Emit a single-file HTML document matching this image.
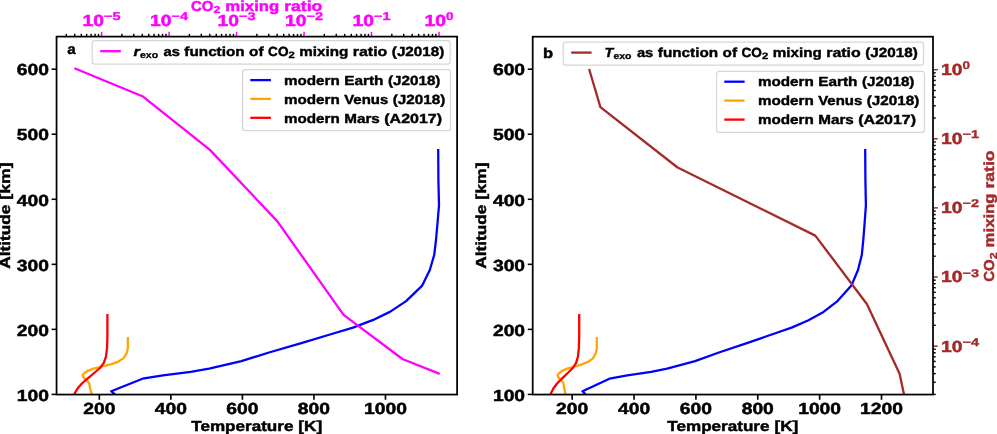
<!DOCTYPE html>
<html><head><meta charset="utf-8"><title>Temperature profiles and CO2 mixing ratio</title>
<style>html,body{margin:0;padding:0;background:#fff;}svg{display:block;will-change:transform;}text{white-space:pre;text-rendering:geometricPrecision;}</style></head>
<body>
<svg width="997" height="434" viewBox="0 0 997 434" font-family="'Liberation Sans', sans-serif" font-weight="bold">
<rect x="0" y="0" width="997" height="434" fill="#fff"/>
<defs><clipPath id="ca"><rect x="56.55" y="36.6" width="400.55" height="357.95"/></clipPath><clipPath id="cb"><rect x="532.7" y="36.7" width="400.30" height="357.85"/></clipPath></defs>
<polyline points="438.2,149.1 438.4,180.0 439.0,205.5 437.6,222.0 436.0,240.0 434.2,255.0 429.8,270.0 422.2,285.6 406.1,301.1 389.9,311.9 372.6,320.2 353.0,327.6 330.0,334.5 301.3,343.1 269.0,352.5 241.4,361.1 209.1,368.7 190.7,371.9 163.0,375.3 142.5,378.7 111.2,391.2 116.5,396.0" fill="none" stroke="#0000ff" stroke-width="2.3" stroke-linejoin="round" stroke-linecap="butt" clip-path="url(#ca)"/>
<polyline points="127.8,337.0 127.8,348.4 126.5,353.7 123.3,358.4 118.0,361.8 110.6,364.4 102.1,366.5 93.6,368.6 87.2,371.1 83.4,373.9 82.6,375.6 84.0,378.2 87.2,380.7 89.3,383.5 90.0,387.7 90.8,390.9 91.5,393.4 91.8,395.5" fill="none" stroke="#ffa500" stroke-width="2.3" stroke-linejoin="round" stroke-linecap="butt" clip-path="url(#ca)"/>
<polyline points="107.4,314.1 107.4,337.8 107.0,348.4 105.9,356.9 103.8,362.9 100.0,368.0 93.6,373.5 87.2,378.8 81.9,383.5 77.7,388.3 74.9,393.0 74.0,395.5" fill="none" stroke="#ff0000" stroke-width="2.3" stroke-linejoin="round" stroke-linecap="butt" clip-path="url(#ca)"/>
<polyline points="74.4,68.3 142.4,96.2 209.9,149.9 277.2,221.1 343.6,314.9 402.4,359.0 439.7,373.9" fill="none" stroke="#ff00ff" stroke-width="2.3" stroke-linejoin="round" stroke-linecap="butt" clip-path="url(#ca)"/>
<polyline points="865.2,149.1 865.4,180.0 865.9,205.5 864.7,222.0 863.3,240.0 861.8,255.0 858.0,270.0 851.4,285.6 837.5,301.1 823.5,311.9 808.5,320.2 791.6,327.6 771.7,334.5 746.9,343.1 718.9,352.5 695.1,361.1 667.1,368.7 651.2,371.9 627.3,375.3 609.5,378.7 582.5,391.2 587.0,396.0" fill="none" stroke="#0000ff" stroke-width="2.3" stroke-linejoin="round" stroke-linecap="butt" clip-path="url(#cb)"/>
<polyline points="596.8,337.0 596.8,348.4 595.7,353.7 592.9,358.4 588.3,361.8 581.9,364.4 574.6,366.5 567.2,368.6 561.7,371.1 558.4,373.9 557.7,375.6 558.9,378.2 561.7,380.7 563.5,383.5 564.1,387.7 564.8,390.9 565.4,393.4 565.7,395.5" fill="none" stroke="#ffa500" stroke-width="2.3" stroke-linejoin="round" stroke-linecap="butt" clip-path="url(#cb)"/>
<polyline points="579.2,314.1 579.2,337.8 578.8,348.4 577.9,356.9 576.1,362.9 572.8,368.0 567.2,373.5 561.7,378.8 557.1,383.5 553.5,388.3 551.1,393.0 550.3,395.5" fill="none" stroke="#ff0000" stroke-width="2.3" stroke-linejoin="round" stroke-linecap="butt" clip-path="url(#cb)"/>
<polyline points="589.1,69.0 600.4,107.2 677.6,167.5 815.3,235.6 867.0,304.2 899.6,373.7 903.8,393.5 904.4,396.5" fill="none" stroke="#a52a2a" stroke-width="2.3" stroke-linejoin="round" stroke-linecap="butt" clip-path="url(#cb)"/>
<line x1="51.60" y1="394.40" x2="56.55" y2="394.40" stroke="#000" stroke-width="1.55"/>
<text font-size="16.02" fill="#000" stroke="#000" stroke-width="0.49"><tspan x="16.80" y="400.63" textLength="32.15" lengthAdjust="spacingAndGlyphs">100</tspan></text>
<line x1="51.60" y1="329.36" x2="56.55" y2="329.36" stroke="#000" stroke-width="1.55"/>
<text font-size="16.02" fill="#000" stroke="#000" stroke-width="0.49"><tspan x="16.80" y="335.59" textLength="32.15" lengthAdjust="spacingAndGlyphs">200</tspan></text>
<line x1="51.60" y1="264.32" x2="56.55" y2="264.32" stroke="#000" stroke-width="1.55"/>
<text font-size="16.02" fill="#000" stroke="#000" stroke-width="0.49"><tspan x="16.80" y="270.55" textLength="32.15" lengthAdjust="spacingAndGlyphs">300</tspan></text>
<line x1="51.60" y1="199.28" x2="56.55" y2="199.28" stroke="#000" stroke-width="1.55"/>
<text font-size="16.02" fill="#000" stroke="#000" stroke-width="0.49"><tspan x="16.80" y="205.51" textLength="32.15" lengthAdjust="spacingAndGlyphs">400</tspan></text>
<line x1="51.60" y1="134.24" x2="56.55" y2="134.24" stroke="#000" stroke-width="1.55"/>
<text font-size="16.02" fill="#000" stroke="#000" stroke-width="0.49"><tspan x="16.80" y="140.47" textLength="32.15" lengthAdjust="spacingAndGlyphs">500</tspan></text>
<line x1="51.60" y1="69.20" x2="56.55" y2="69.20" stroke="#000" stroke-width="1.55"/>
<text font-size="16.02" fill="#000" stroke="#000" stroke-width="0.49"><tspan x="16.80" y="75.43" textLength="32.15" lengthAdjust="spacingAndGlyphs">600</tspan></text>
<line x1="527.75" y1="394.40" x2="532.70" y2="394.40" stroke="#000" stroke-width="1.55"/>
<text font-size="16.02" fill="#000" stroke="#000" stroke-width="0.49"><tspan x="492.95" y="400.63" textLength="32.15" lengthAdjust="spacingAndGlyphs">100</tspan></text>
<line x1="527.75" y1="329.36" x2="532.70" y2="329.36" stroke="#000" stroke-width="1.55"/>
<text font-size="16.02" fill="#000" stroke="#000" stroke-width="0.49"><tspan x="492.95" y="335.59" textLength="32.15" lengthAdjust="spacingAndGlyphs">200</tspan></text>
<line x1="527.75" y1="264.32" x2="532.70" y2="264.32" stroke="#000" stroke-width="1.55"/>
<text font-size="16.02" fill="#000" stroke="#000" stroke-width="0.49"><tspan x="492.95" y="270.55" textLength="32.15" lengthAdjust="spacingAndGlyphs">300</tspan></text>
<line x1="527.75" y1="199.28" x2="532.70" y2="199.28" stroke="#000" stroke-width="1.55"/>
<text font-size="16.02" fill="#000" stroke="#000" stroke-width="0.49"><tspan x="492.95" y="205.51" textLength="32.15" lengthAdjust="spacingAndGlyphs">400</tspan></text>
<line x1="527.75" y1="134.24" x2="532.70" y2="134.24" stroke="#000" stroke-width="1.55"/>
<text font-size="16.02" fill="#000" stroke="#000" stroke-width="0.49"><tspan x="492.95" y="140.47" textLength="32.15" lengthAdjust="spacingAndGlyphs">500</tspan></text>
<line x1="527.75" y1="69.20" x2="532.70" y2="69.20" stroke="#000" stroke-width="1.55"/>
<text font-size="16.02" fill="#000" stroke="#000" stroke-width="0.49"><tspan x="492.95" y="75.43" textLength="32.15" lengthAdjust="spacingAndGlyphs">600</tspan></text>
<line x1="99.33" y1="394.55" x2="99.33" y2="399.75" stroke="#000" stroke-width="1.65"/>
<text font-size="16.02" fill="#000" stroke="#000" stroke-width="0.49"><tspan x="83.26" y="414.00" textLength="32.15" lengthAdjust="spacingAndGlyphs">200</tspan></text>
<line x1="170.86" y1="394.55" x2="170.86" y2="399.75" stroke="#000" stroke-width="1.65"/>
<text font-size="16.02" fill="#000" stroke="#000" stroke-width="0.49"><tspan x="154.79" y="414.00" textLength="32.15" lengthAdjust="spacingAndGlyphs">400</tspan></text>
<line x1="242.40" y1="394.55" x2="242.40" y2="399.75" stroke="#000" stroke-width="1.65"/>
<text font-size="16.02" fill="#000" stroke="#000" stroke-width="0.49"><tspan x="226.33" y="414.00" textLength="32.15" lengthAdjust="spacingAndGlyphs">600</tspan></text>
<line x1="313.94" y1="394.55" x2="313.94" y2="399.75" stroke="#000" stroke-width="1.65"/>
<text font-size="16.02" fill="#000" stroke="#000" stroke-width="0.49"><tspan x="297.86" y="414.00" textLength="32.15" lengthAdjust="spacingAndGlyphs">800</tspan></text>
<line x1="385.47" y1="394.55" x2="385.47" y2="399.75" stroke="#000" stroke-width="1.65"/>
<text font-size="16.02" fill="#000" stroke="#000" stroke-width="0.49"><tspan x="364.04" y="414.00" textLength="42.86" lengthAdjust="spacingAndGlyphs">1000</tspan></text>
<line x1="572.20" y1="394.55" x2="572.20" y2="399.75" stroke="#000" stroke-width="1.65"/>
<text font-size="16.02" fill="#000" stroke="#000" stroke-width="0.49"><tspan x="556.12" y="414.00" textLength="32.15" lengthAdjust="spacingAndGlyphs">200</tspan></text>
<line x1="634.06" y1="394.55" x2="634.06" y2="399.75" stroke="#000" stroke-width="1.65"/>
<text font-size="16.02" fill="#000" stroke="#000" stroke-width="0.49"><tspan x="617.98" y="414.00" textLength="32.15" lengthAdjust="spacingAndGlyphs">400</tspan></text>
<line x1="695.92" y1="394.55" x2="695.92" y2="399.75" stroke="#000" stroke-width="1.65"/>
<text font-size="16.02" fill="#000" stroke="#000" stroke-width="0.49"><tspan x="679.84" y="414.00" textLength="32.15" lengthAdjust="spacingAndGlyphs">600</tspan></text>
<line x1="757.78" y1="394.55" x2="757.78" y2="399.75" stroke="#000" stroke-width="1.65"/>
<text font-size="16.02" fill="#000" stroke="#000" stroke-width="0.49"><tspan x="741.70" y="414.00" textLength="32.15" lengthAdjust="spacingAndGlyphs">800</tspan></text>
<line x1="819.64" y1="394.55" x2="819.64" y2="399.75" stroke="#000" stroke-width="1.65"/>
<text font-size="16.02" fill="#000" stroke="#000" stroke-width="0.49"><tspan x="798.21" y="414.00" textLength="42.86" lengthAdjust="spacingAndGlyphs">1000</tspan></text>
<line x1="881.50" y1="394.55" x2="881.50" y2="399.75" stroke="#000" stroke-width="1.65"/>
<text font-size="16.02" fill="#000" stroke="#000" stroke-width="0.49"><tspan x="860.07" y="414.00" textLength="42.86" lengthAdjust="spacingAndGlyphs">1200</tspan></text>
<text font-size="14.48" fill="#000" stroke="#000" stroke-width="0.45"><tspan x="191.29" y="430.60" textLength="102.14" lengthAdjust="spacingAndGlyphs">Temperature</tspan> <tspan x="298.37" y="430.60" textLength="23.98" lengthAdjust="spacingAndGlyphs">[K]</tspan></text>
<text font-size="14.48" fill="#000" stroke="#000" stroke-width="0.45"><tspan x="667.32" y="430.60" textLength="102.14" lengthAdjust="spacingAndGlyphs">Temperature</tspan> <tspan x="774.40" y="430.60" textLength="23.98" lengthAdjust="spacingAndGlyphs">[K]</tspan></text>
<text font-size="14.48" fill="#000" stroke="#000" stroke-width="0.45" transform="rotate(-90 10.30 215.58)"><tspan x="-42.88" y="215.58" textLength="64.21" lengthAdjust="spacingAndGlyphs">Altitude</tspan> <tspan x="26.26" y="215.58" textLength="37.22" lengthAdjust="spacingAndGlyphs">[km]</tspan></text>
<text font-size="14.48" fill="#000" stroke="#000" stroke-width="0.45" transform="rotate(-90 486.50 215.62)"><tspan x="433.32" y="215.62" textLength="64.21" lengthAdjust="spacingAndGlyphs">Altitude</tspan> <tspan x="502.46" y="215.62" textLength="37.22" lengthAdjust="spacingAndGlyphs">[km]</tspan></text>
<line x1="66.32" y1="36.60" x2="66.32" y2="33.85" stroke="#000" stroke-width="1.4"/>
<line x1="74.75" y1="36.60" x2="74.75" y2="33.85" stroke="#000" stroke-width="1.4"/>
<line x1="81.29" y1="36.60" x2="81.29" y2="33.85" stroke="#000" stroke-width="1.4"/>
<line x1="86.63" y1="36.60" x2="86.63" y2="33.85" stroke="#000" stroke-width="1.4"/>
<line x1="91.15" y1="36.60" x2="91.15" y2="33.85" stroke="#000" stroke-width="1.4"/>
<line x1="95.06" y1="36.60" x2="95.06" y2="33.85" stroke="#000" stroke-width="1.4"/>
<line x1="98.51" y1="36.60" x2="98.51" y2="33.85" stroke="#000" stroke-width="1.4"/>
<line x1="121.91" y1="36.60" x2="121.91" y2="33.85" stroke="#000" stroke-width="1.4"/>
<line x1="133.80" y1="36.60" x2="133.80" y2="33.85" stroke="#000" stroke-width="1.4"/>
<line x1="142.23" y1="36.60" x2="142.23" y2="33.85" stroke="#000" stroke-width="1.4"/>
<line x1="148.77" y1="36.60" x2="148.77" y2="33.85" stroke="#000" stroke-width="1.4"/>
<line x1="154.11" y1="36.60" x2="154.11" y2="33.85" stroke="#000" stroke-width="1.4"/>
<line x1="158.63" y1="36.60" x2="158.63" y2="33.85" stroke="#000" stroke-width="1.4"/>
<line x1="162.54" y1="36.60" x2="162.54" y2="33.85" stroke="#000" stroke-width="1.4"/>
<line x1="165.99" y1="36.60" x2="165.99" y2="33.85" stroke="#000" stroke-width="1.4"/>
<line x1="189.39" y1="36.60" x2="189.39" y2="33.85" stroke="#000" stroke-width="1.4"/>
<line x1="201.28" y1="36.60" x2="201.28" y2="33.85" stroke="#000" stroke-width="1.4"/>
<line x1="209.71" y1="36.60" x2="209.71" y2="33.85" stroke="#000" stroke-width="1.4"/>
<line x1="216.25" y1="36.60" x2="216.25" y2="33.85" stroke="#000" stroke-width="1.4"/>
<line x1="221.59" y1="36.60" x2="221.59" y2="33.85" stroke="#000" stroke-width="1.4"/>
<line x1="226.11" y1="36.60" x2="226.11" y2="33.85" stroke="#000" stroke-width="1.4"/>
<line x1="230.02" y1="36.60" x2="230.02" y2="33.85" stroke="#000" stroke-width="1.4"/>
<line x1="233.47" y1="36.60" x2="233.47" y2="33.85" stroke="#000" stroke-width="1.4"/>
<line x1="256.87" y1="36.60" x2="256.87" y2="33.85" stroke="#000" stroke-width="1.4"/>
<line x1="268.76" y1="36.60" x2="268.76" y2="33.85" stroke="#000" stroke-width="1.4"/>
<line x1="277.19" y1="36.60" x2="277.19" y2="33.85" stroke="#000" stroke-width="1.4"/>
<line x1="283.73" y1="36.60" x2="283.73" y2="33.85" stroke="#000" stroke-width="1.4"/>
<line x1="289.07" y1="36.60" x2="289.07" y2="33.85" stroke="#000" stroke-width="1.4"/>
<line x1="293.59" y1="36.60" x2="293.59" y2="33.85" stroke="#000" stroke-width="1.4"/>
<line x1="297.50" y1="36.60" x2="297.50" y2="33.85" stroke="#000" stroke-width="1.4"/>
<line x1="300.95" y1="36.60" x2="300.95" y2="33.85" stroke="#000" stroke-width="1.4"/>
<line x1="324.35" y1="36.60" x2="324.35" y2="33.85" stroke="#000" stroke-width="1.4"/>
<line x1="336.24" y1="36.60" x2="336.24" y2="33.85" stroke="#000" stroke-width="1.4"/>
<line x1="344.67" y1="36.60" x2="344.67" y2="33.85" stroke="#000" stroke-width="1.4"/>
<line x1="351.21" y1="36.60" x2="351.21" y2="33.85" stroke="#000" stroke-width="1.4"/>
<line x1="356.55" y1="36.60" x2="356.55" y2="33.85" stroke="#000" stroke-width="1.4"/>
<line x1="361.07" y1="36.60" x2="361.07" y2="33.85" stroke="#000" stroke-width="1.4"/>
<line x1="364.98" y1="36.60" x2="364.98" y2="33.85" stroke="#000" stroke-width="1.4"/>
<line x1="368.43" y1="36.60" x2="368.43" y2="33.85" stroke="#000" stroke-width="1.4"/>
<line x1="391.83" y1="36.60" x2="391.83" y2="33.85" stroke="#000" stroke-width="1.4"/>
<line x1="403.72" y1="36.60" x2="403.72" y2="33.85" stroke="#000" stroke-width="1.4"/>
<line x1="412.15" y1="36.60" x2="412.15" y2="33.85" stroke="#000" stroke-width="1.4"/>
<line x1="418.69" y1="36.60" x2="418.69" y2="33.85" stroke="#000" stroke-width="1.4"/>
<line x1="424.03" y1="36.60" x2="424.03" y2="33.85" stroke="#000" stroke-width="1.4"/>
<line x1="428.55" y1="36.60" x2="428.55" y2="33.85" stroke="#000" stroke-width="1.4"/>
<line x1="432.46" y1="36.60" x2="432.46" y2="33.85" stroke="#000" stroke-width="1.4"/>
<line x1="435.91" y1="36.60" x2="435.91" y2="33.85" stroke="#000" stroke-width="1.4"/>
<line x1="101.60" y1="36.60" x2="101.60" y2="31.85" stroke="#ff00ff" stroke-width="1.5"/>
<text font-size="16.02" fill="#ff00ff" stroke="#ff00ff" stroke-width="0.49"><tspan x="82.62" y="25.65" textLength="21.43" lengthAdjust="spacingAndGlyphs">10</tspan><tspan x="104.05" y="19.72" textLength="16.53" lengthAdjust="spacingAndGlyphs" font-size="11.22" stroke-width="0.34">−5</tspan></text>
<line x1="169.08" y1="36.60" x2="169.08" y2="31.85" stroke="#ff00ff" stroke-width="1.5"/>
<text font-size="16.02" fill="#ff00ff" stroke="#ff00ff" stroke-width="0.49"><tspan x="150.10" y="25.65" textLength="21.43" lengthAdjust="spacingAndGlyphs">10</tspan><tspan x="171.53" y="19.72" textLength="16.53" lengthAdjust="spacingAndGlyphs" font-size="11.22" stroke-width="0.34">−4</tspan></text>
<line x1="236.56" y1="36.60" x2="236.56" y2="31.85" stroke="#ff00ff" stroke-width="1.5"/>
<text font-size="16.02" fill="#ff00ff" stroke="#ff00ff" stroke-width="0.49"><tspan x="217.58" y="25.65" textLength="21.43" lengthAdjust="spacingAndGlyphs">10</tspan><tspan x="239.01" y="19.72" textLength="16.53" lengthAdjust="spacingAndGlyphs" font-size="11.22" stroke-width="0.34">−3</tspan></text>
<line x1="304.04" y1="36.60" x2="304.04" y2="31.85" stroke="#ff00ff" stroke-width="1.5"/>
<text font-size="16.02" fill="#ff00ff" stroke="#ff00ff" stroke-width="0.49"><tspan x="285.06" y="25.65" textLength="21.43" lengthAdjust="spacingAndGlyphs">10</tspan><tspan x="306.49" y="19.72" textLength="16.53" lengthAdjust="spacingAndGlyphs" font-size="11.22" stroke-width="0.34">−2</tspan></text>
<line x1="371.52" y1="36.60" x2="371.52" y2="31.85" stroke="#ff00ff" stroke-width="1.5"/>
<text font-size="16.02" fill="#ff00ff" stroke="#ff00ff" stroke-width="0.49"><tspan x="352.54" y="25.65" textLength="21.43" lengthAdjust="spacingAndGlyphs">10</tspan><tspan x="373.97" y="19.72" textLength="16.53" lengthAdjust="spacingAndGlyphs" font-size="11.22" stroke-width="0.34">−1</tspan></text>
<line x1="439.00" y1="36.60" x2="439.00" y2="31.85" stroke="#ff00ff" stroke-width="1.5"/>
<text font-size="16.02" fill="#ff00ff" stroke="#ff00ff" stroke-width="0.49"><tspan x="424.53" y="25.65" textLength="21.43" lengthAdjust="spacingAndGlyphs">10</tspan><tspan x="445.96" y="19.72" textLength="7.50" lengthAdjust="spacingAndGlyphs" font-size="11.22" stroke-width="0.34">0</tspan></text>
<text font-size="14.48" fill="#ff00ff" stroke="#ff00ff" stroke-width="0.45"><tspan x="190.97" y="10.75" textLength="22.49" lengthAdjust="spacingAndGlyphs">CO</tspan><tspan x="213.46" y="13.02" textLength="6.92" lengthAdjust="spacingAndGlyphs" font-size="10.14" stroke-width="0.32">2</tspan> <tspan x="225.32" y="10.75" textLength="53.96" lengthAdjust="spacingAndGlyphs">mixing</tspan> <tspan x="284.23" y="10.75" textLength="38.00" lengthAdjust="spacingAndGlyphs">ratio</tspan></text>
<line x1="933.00" y1="394.40" x2="935.75" y2="394.40" stroke="#000" stroke-width="1.4"/>
<line x1="933.00" y1="382.23" x2="935.75" y2="382.23" stroke="#000" stroke-width="1.4"/>
<line x1="933.00" y1="373.60" x2="935.75" y2="373.60" stroke="#000" stroke-width="1.4"/>
<line x1="933.00" y1="366.90" x2="935.75" y2="366.90" stroke="#000" stroke-width="1.4"/>
<line x1="933.00" y1="361.43" x2="935.75" y2="361.43" stroke="#000" stroke-width="1.4"/>
<line x1="933.00" y1="356.80" x2="935.75" y2="356.80" stroke="#000" stroke-width="1.4"/>
<line x1="933.00" y1="352.80" x2="935.75" y2="352.80" stroke="#000" stroke-width="1.4"/>
<line x1="933.00" y1="349.26" x2="935.75" y2="349.26" stroke="#000" stroke-width="1.4"/>
<line x1="933.00" y1="325.30" x2="935.75" y2="325.30" stroke="#000" stroke-width="1.4"/>
<line x1="933.00" y1="313.13" x2="935.75" y2="313.13" stroke="#000" stroke-width="1.4"/>
<line x1="933.00" y1="304.50" x2="935.75" y2="304.50" stroke="#000" stroke-width="1.4"/>
<line x1="933.00" y1="297.80" x2="935.75" y2="297.80" stroke="#000" stroke-width="1.4"/>
<line x1="933.00" y1="292.33" x2="935.75" y2="292.33" stroke="#000" stroke-width="1.4"/>
<line x1="933.00" y1="287.70" x2="935.75" y2="287.70" stroke="#000" stroke-width="1.4"/>
<line x1="933.00" y1="283.70" x2="935.75" y2="283.70" stroke="#000" stroke-width="1.4"/>
<line x1="933.00" y1="280.16" x2="935.75" y2="280.16" stroke="#000" stroke-width="1.4"/>
<line x1="933.00" y1="256.20" x2="935.75" y2="256.20" stroke="#000" stroke-width="1.4"/>
<line x1="933.00" y1="244.03" x2="935.75" y2="244.03" stroke="#000" stroke-width="1.4"/>
<line x1="933.00" y1="235.40" x2="935.75" y2="235.40" stroke="#000" stroke-width="1.4"/>
<line x1="933.00" y1="228.70" x2="935.75" y2="228.70" stroke="#000" stroke-width="1.4"/>
<line x1="933.00" y1="223.23" x2="935.75" y2="223.23" stroke="#000" stroke-width="1.4"/>
<line x1="933.00" y1="218.60" x2="935.75" y2="218.60" stroke="#000" stroke-width="1.4"/>
<line x1="933.00" y1="214.60" x2="935.75" y2="214.60" stroke="#000" stroke-width="1.4"/>
<line x1="933.00" y1="211.06" x2="935.75" y2="211.06" stroke="#000" stroke-width="1.4"/>
<line x1="933.00" y1="187.10" x2="935.75" y2="187.10" stroke="#000" stroke-width="1.4"/>
<line x1="933.00" y1="174.93" x2="935.75" y2="174.93" stroke="#000" stroke-width="1.4"/>
<line x1="933.00" y1="166.30" x2="935.75" y2="166.30" stroke="#000" stroke-width="1.4"/>
<line x1="933.00" y1="159.60" x2="935.75" y2="159.60" stroke="#000" stroke-width="1.4"/>
<line x1="933.00" y1="154.13" x2="935.75" y2="154.13" stroke="#000" stroke-width="1.4"/>
<line x1="933.00" y1="149.50" x2="935.75" y2="149.50" stroke="#000" stroke-width="1.4"/>
<line x1="933.00" y1="145.50" x2="935.75" y2="145.50" stroke="#000" stroke-width="1.4"/>
<line x1="933.00" y1="141.96" x2="935.75" y2="141.96" stroke="#000" stroke-width="1.4"/>
<line x1="933.00" y1="118.00" x2="935.75" y2="118.00" stroke="#000" stroke-width="1.4"/>
<line x1="933.00" y1="105.83" x2="935.75" y2="105.83" stroke="#000" stroke-width="1.4"/>
<line x1="933.00" y1="97.20" x2="935.75" y2="97.20" stroke="#000" stroke-width="1.4"/>
<line x1="933.00" y1="90.50" x2="935.75" y2="90.50" stroke="#000" stroke-width="1.4"/>
<line x1="933.00" y1="85.03" x2="935.75" y2="85.03" stroke="#000" stroke-width="1.4"/>
<line x1="933.00" y1="80.40" x2="935.75" y2="80.40" stroke="#000" stroke-width="1.4"/>
<line x1="933.00" y1="76.40" x2="935.75" y2="76.40" stroke="#000" stroke-width="1.4"/>
<line x1="933.00" y1="72.86" x2="935.75" y2="72.86" stroke="#000" stroke-width="1.4"/>
<line x1="933.00" y1="346.10" x2="937.75" y2="346.10" stroke="#a52a2a" stroke-width="1.5"/>
<text font-size="16.02" fill="#a52a2a" stroke="#a52a2a" stroke-width="0.49"><tspan x="941.00" y="351.53" textLength="21.43" lengthAdjust="spacingAndGlyphs">10</tspan><tspan x="962.43" y="345.60" textLength="16.53" lengthAdjust="spacingAndGlyphs" font-size="11.22" stroke-width="0.34">−4</tspan></text>
<line x1="933.00" y1="277.00" x2="937.75" y2="277.00" stroke="#a52a2a" stroke-width="1.5"/>
<text font-size="16.02" fill="#a52a2a" stroke="#a52a2a" stroke-width="0.49"><tspan x="941.00" y="282.43" textLength="21.43" lengthAdjust="spacingAndGlyphs">10</tspan><tspan x="962.43" y="276.50" textLength="16.53" lengthAdjust="spacingAndGlyphs" font-size="11.22" stroke-width="0.34">−3</tspan></text>
<line x1="933.00" y1="207.90" x2="937.75" y2="207.90" stroke="#a52a2a" stroke-width="1.5"/>
<text font-size="16.02" fill="#a52a2a" stroke="#a52a2a" stroke-width="0.49"><tspan x="941.00" y="213.33" textLength="21.43" lengthAdjust="spacingAndGlyphs">10</tspan><tspan x="962.43" y="207.40" textLength="16.53" lengthAdjust="spacingAndGlyphs" font-size="11.22" stroke-width="0.34">−2</tspan></text>
<line x1="933.00" y1="138.80" x2="937.75" y2="138.80" stroke="#a52a2a" stroke-width="1.5"/>
<text font-size="16.02" fill="#a52a2a" stroke="#a52a2a" stroke-width="0.49"><tspan x="941.00" y="144.23" textLength="21.43" lengthAdjust="spacingAndGlyphs">10</tspan><tspan x="962.43" y="138.30" textLength="16.53" lengthAdjust="spacingAndGlyphs" font-size="11.22" stroke-width="0.34">−1</tspan></text>
<line x1="933.00" y1="69.70" x2="937.75" y2="69.70" stroke="#a52a2a" stroke-width="1.5"/>
<text font-size="16.02" fill="#a52a2a" stroke="#a52a2a" stroke-width="0.49"><tspan x="941.00" y="75.13" textLength="21.43" lengthAdjust="spacingAndGlyphs">10</tspan><tspan x="962.43" y="69.20" textLength="7.50" lengthAdjust="spacingAndGlyphs" font-size="11.22" stroke-width="0.34">0</tspan></text>
<text font-size="14.48" fill="#a52a2a" stroke="#a52a2a" stroke-width="0.45" transform="rotate(-90 994.25 216.12)"><tspan x="928.62" y="216.12" textLength="22.49" lengthAdjust="spacingAndGlyphs">CO</tspan><tspan x="951.11" y="218.40" textLength="6.92" lengthAdjust="spacingAndGlyphs" font-size="10.14" stroke-width="0.32">2</tspan> <tspan x="962.97" y="216.12" textLength="53.96" lengthAdjust="spacingAndGlyphs">mixing</tspan> <tspan x="1021.88" y="216.12" textLength="38.00" lengthAdjust="spacingAndGlyphs">ratio</tspan></text>
<rect x="56.55" y="36.6" width="400.55" height="357.95" fill="none" stroke="#000" stroke-width="1.75"/>
<rect x="532.7" y="36.7" width="400.30" height="357.85" fill="none" stroke="#000" stroke-width="1.75"/>
<text font-size="14.29" fill="#000" stroke="#000" stroke-width="0.40"><tspan x="67.30" y="54.20" textLength="8.44" lengthAdjust="spacingAndGlyphs">a</tspan></text>
<text font-size="14.34" fill="#000" stroke="#000" stroke-width="0.45"><tspan x="543.00" y="58.00" textLength="10.07" lengthAdjust="spacingAndGlyphs">b</tspan></text>
<rect x="92.20" y="40.60" width="358.00" height="23.60" rx="2.6" ry="2.6" fill="#fff" fill-opacity="0.8" stroke="#d6d6d6" stroke-width="1.2"/>
<line x1="100.20" y1="51.20" x2="120.80" y2="51.20" stroke="#ff00ff" stroke-width="2.3"/>
<text font-size="13.16" fill="#000" stroke="#000" stroke-width="0.41"><tspan x="133.60" y="55.95" textLength="6.36" lengthAdjust="spacingAndGlyphs" font-style="italic">r</tspan><tspan x="139.96" y="58.01" textLength="18.15" lengthAdjust="spacingAndGlyphs" font-size="9.21" stroke-width="0.29">exo</tspan> <tspan x="163.51" y="55.95" textLength="16.38" lengthAdjust="spacingAndGlyphs">as</tspan> <tspan x="184.38" y="55.95" textLength="60.26" lengthAdjust="spacingAndGlyphs">function</tspan> <tspan x="249.13" y="55.95" textLength="14.47" lengthAdjust="spacingAndGlyphs">of</tspan> <tspan x="268.10" y="55.95" textLength="20.43" lengthAdjust="spacingAndGlyphs">CO</tspan><tspan x="288.53" y="58.01" textLength="6.28" lengthAdjust="spacingAndGlyphs" font-size="9.21" stroke-width="0.29">2</tspan> <tspan x="299.31" y="55.95" textLength="49.02" lengthAdjust="spacingAndGlyphs">mixing</tspan> <tspan x="352.82" y="55.95" textLength="34.52" lengthAdjust="spacingAndGlyphs">ratio</tspan> <tspan x="391.83" y="55.95" textLength="52.49" lengthAdjust="spacingAndGlyphs">(J2018)</tspan></text>
<rect x="242.60" y="69.70" width="207.90" height="60.90" rx="2.6" ry="2.6" fill="#fff" fill-opacity="0.8" stroke="#d6d6d6" stroke-width="1.2"/>
<line x1="250.30" y1="80.10" x2="270.90" y2="80.10" stroke="#0000ff" stroke-width="2.3"/>
<text font-size="13.16" fill="#000" stroke="#000" stroke-width="0.41"><tspan x="283.90" y="84.80" textLength="55.83" lengthAdjust="spacingAndGlyphs">modern</tspan> <tspan x="344.22" y="84.80" textLength="39.23" lengthAdjust="spacingAndGlyphs">Earth</tspan> <tspan x="387.94" y="84.80" textLength="52.49" lengthAdjust="spacingAndGlyphs">(J2018)</tspan></text>
<line x1="250.30" y1="98.90" x2="270.90" y2="98.90" stroke="#ffa500" stroke-width="2.3"/>
<text font-size="13.16" fill="#000" stroke="#000" stroke-width="0.41"><tspan x="283.90" y="103.60" textLength="55.83" lengthAdjust="spacingAndGlyphs">modern</tspan> <tspan x="344.22" y="103.60" textLength="44.07" lengthAdjust="spacingAndGlyphs">Venus</tspan> <tspan x="392.79" y="103.60" textLength="52.49" lengthAdjust="spacingAndGlyphs">(J2018)</tspan></text>
<line x1="250.30" y1="117.80" x2="270.90" y2="117.80" stroke="#ff0000" stroke-width="2.3"/>
<text font-size="13.16" fill="#000" stroke="#000" stroke-width="0.41"><tspan x="283.90" y="122.50" textLength="55.83" lengthAdjust="spacingAndGlyphs">modern</tspan> <tspan x="344.22" y="122.50" textLength="35.58" lengthAdjust="spacingAndGlyphs">Mars</tspan> <tspan x="384.30" y="122.50" textLength="57.68" lengthAdjust="spacingAndGlyphs">(A2017)</tspan></text>
<rect x="563.20" y="42.10" width="360.30" height="23.10" rx="2.6" ry="2.6" fill="#fff" fill-opacity="0.8" stroke="#d6d6d6" stroke-width="1.2"/>
<line x1="571.20" y1="52.60" x2="591.60" y2="52.60" stroke="#a52a2a" stroke-width="2.3"/>
<text font-size="13.16" fill="#000" stroke="#000" stroke-width="0.41"><tspan x="604.60" y="57.00" textLength="8.80" lengthAdjust="spacingAndGlyphs" font-style="italic">T</tspan><tspan x="613.40" y="59.06" textLength="18.15" lengthAdjust="spacingAndGlyphs" font-size="9.21" stroke-width="0.29">exo</tspan> <tspan x="636.94" y="57.00" textLength="16.38" lengthAdjust="spacingAndGlyphs">as</tspan> <tspan x="657.82" y="57.00" textLength="60.26" lengthAdjust="spacingAndGlyphs">function</tspan> <tspan x="722.57" y="57.00" textLength="14.47" lengthAdjust="spacingAndGlyphs">of</tspan> <tspan x="741.54" y="57.00" textLength="20.43" lengthAdjust="spacingAndGlyphs">CO</tspan><tspan x="761.97" y="59.06" textLength="6.28" lengthAdjust="spacingAndGlyphs" font-size="9.21" stroke-width="0.29">2</tspan> <tspan x="772.74" y="57.00" textLength="49.02" lengthAdjust="spacingAndGlyphs">mixing</tspan> <tspan x="826.26" y="57.00" textLength="34.52" lengthAdjust="spacingAndGlyphs">ratio</tspan> <tspan x="865.27" y="57.00" textLength="52.49" lengthAdjust="spacingAndGlyphs">(J2018)</tspan></text>
<rect x="716.60" y="71.30" width="207.90" height="61.00" rx="2.6" ry="2.6" fill="#fff" fill-opacity="0.8" stroke="#d6d6d6" stroke-width="1.2"/>
<line x1="724.30" y1="81.70" x2="744.60" y2="81.70" stroke="#0000ff" stroke-width="2.3"/>
<text font-size="13.16" fill="#000" stroke="#000" stroke-width="0.41"><tspan x="757.90" y="86.40" textLength="55.83" lengthAdjust="spacingAndGlyphs">modern</tspan> <tspan x="818.22" y="86.40" textLength="39.23" lengthAdjust="spacingAndGlyphs">Earth</tspan> <tspan x="861.94" y="86.40" textLength="52.49" lengthAdjust="spacingAndGlyphs">(J2018)</tspan></text>
<line x1="724.30" y1="100.60" x2="744.60" y2="100.60" stroke="#ffa500" stroke-width="2.3"/>
<text font-size="13.16" fill="#000" stroke="#000" stroke-width="0.41"><tspan x="757.90" y="105.30" textLength="55.83" lengthAdjust="spacingAndGlyphs">modern</tspan> <tspan x="818.22" y="105.30" textLength="44.07" lengthAdjust="spacingAndGlyphs">Venus</tspan> <tspan x="866.79" y="105.30" textLength="52.49" lengthAdjust="spacingAndGlyphs">(J2018)</tspan></text>
<line x1="724.30" y1="119.60" x2="744.60" y2="119.60" stroke="#ff0000" stroke-width="2.3"/>
<text font-size="13.16" fill="#000" stroke="#000" stroke-width="0.41"><tspan x="757.90" y="124.30" textLength="55.83" lengthAdjust="spacingAndGlyphs">modern</tspan> <tspan x="818.22" y="124.30" textLength="35.58" lengthAdjust="spacingAndGlyphs">Mars</tspan> <tspan x="858.30" y="124.30" textLength="57.68" lengthAdjust="spacingAndGlyphs">(A2017)</tspan></text>
</svg>
</body></html>
